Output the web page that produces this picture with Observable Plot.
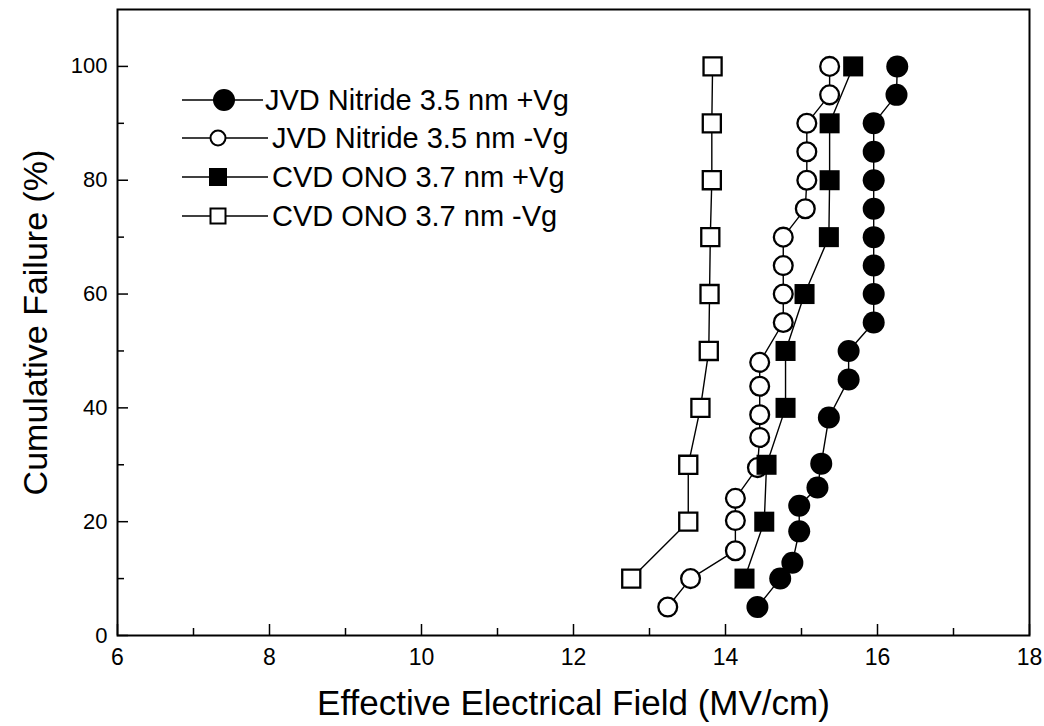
<!DOCTYPE html>
<html><head><meta charset="utf-8">
<script src="https://cdn.jsdelivr.net/npm/d3@7"></script>
<script src="https://cdn.jsdelivr.net/npm/@observablehq/plot@0.6"></script>
<style>
body{margin:0;background:#fff}
#wrap{position:relative;width:1044px;height:726px;background:#fff}
#legend{position:absolute;left:0;top:0;pointer-events:none}
</style>
</head><body><div id="wrap"></div>
<script>
// ---- data ----
const seriesNames = ["JVD Nitride 3.5 nm +Vg", "JVD Nitride 3.5 nm -Vg", "CVD ONO 3.7 nm +Vg", "CVD ONO 3.7 nm -Vg"];

const jvdPosX = [14.42, 14.72, 14.88, 14.97, 14.97, 15.21, 15.26, 15.36, 15.62, 15.62, 15.95, 15.95, 15.95, 15.95, 15.95, 15.95, 15.95, 15.95, 16.25, 16.26];
const jvdPosY = [5, 10, 12.8, 18.3, 22.8, 26, 30.2, 38.3, 45, 50, 55, 60, 65, 70, 75, 80, 85, 90, 95, 100];

const jvdNegX = [13.24, 13.54, 14.13, 14.13, 14.13, 14.42, 14.45, 14.45, 14.45, 14.45, 14.76, 14.76, 14.76, 14.76, 15.05, 15.07, 15.07, 15.07, 15.37, 15.37];
const jvdNegY = [5, 10, 14.9, 20.2, 24.1, 29.5, 34.8, 38.8, 43.8, 48, 55, 60, 65, 70, 75, 80, 85, 90, 95, 100];

const cvdPosX = [14.25, 14.51, 14.54, 14.79, 14.79, 15.04, 15.36, 15.37, 15.37, 15.68];
const cvdPosY = [10, 20, 30, 40, 50, 60, 70, 80, 90, 100];

const cvdNegX = [12.76, 13.51, 13.51, 13.67, 13.78, 13.79, 13.80, 13.82, 13.82, 13.83];
const cvdNegY = [10, 20, 30, 40, 50, 60, 70, 80, 90, 100];

const xTickLabels = [6, 8, 10, 12, 14, 16, 18];
const xMinorTicks = [7, 9, 11, 13, 15, 17];
const yTickLabels = [0, 20, 40, 60, 80, 100];
const yMinorTicks = [10, 30, 50, 70, 90];

const xTitle = "Effective Electrical Field (MV/cm)";
const yTitle = "Cumulative Failure (%)";

// ---- build ----
const zip = (xs, ys) => xs.map((x, i) => ({x, y: ys[i]}));
const sJP = zip(jvdPosX, jvdPosY), sJN = zip(jvdNegX, jvdNegY), sCP = zip(cvdPosX, cvdPosY), sCN = zip(cvdNegX, cvdNegY);

const W = 1044, H = 726, mL = 117, mR = 15, mT = 9, mB = 91;
const frameW = W - mL - mR, frameH = H - mT - mB;
const font = "'Liberation Sans', Arial, Helvetica, sans-serif";

const lineOpts = {x: "x", y: "y", stroke: "black", strokeWidth: 1.4};
const chart = Plot.plot({
  width: W, height: H,
  marginLeft: mL, marginRight: mR, marginTop: mT, marginBottom: mB,
  style: {fontFamily: font, background: "white", color: "black", overflow: "visible"},
  x: {domain: [6, 18], labelArrow: "none"},
  y: {domain: [0, 110], labelArrow: "none"},
  marks: [
    Plot.line(sJN, lineOpts),
    Plot.line(sCN, lineOpts),
    Plot.line(sCP, lineOpts),
    Plot.line(sJP, lineOpts),
    Plot.dot(sJN, {x: "x", y: "y", r: 9.4, fill: "white", stroke: "black", strokeWidth: 2.3}),
    Plot.dot(sCN, {x: "x", y: "y", symbol: "square", r: 10.2, fill: "white", stroke: "black", strokeWidth: 2.3}),
    Plot.dot(sCP, {x: "x", y: "y", symbol: "square", r: 11.3, fill: "black", stroke: "none"}),
    Plot.dot(sJP, {x: "x", y: "y", r: 11, fill: "black", stroke: "none"}),
    Plot.ruleX(xTickLabels, {x: d => d, stroke: "black", strokeWidth: 1.5, insetTop: frameH - 11}),
    Plot.ruleX(xMinorTicks, {x: d => d, stroke: "black", strokeWidth: 1.5, insetTop: frameH - 7}),
    Plot.ruleY(yTickLabels, {y: d => d, stroke: "black", strokeWidth: 1.5, insetRight: frameW - 11}),
    Plot.ruleY(yMinorTicks, {y: d => d, stroke: "black", strokeWidth: 1.5, insetRight: frameW - 7}),
    Plot.frame({stroke: "black", strokeWidth: 2}),
    Plot.axisX({ticks: xTickLabels, tickSize: 0, tickPadding: 13, fontSize: 23, label: null}),
    Plot.axisX({ticks: [], tickSize: 0, label: xTitle, labelArrow: "none", labelAnchor: "center", labelOffset: 79, fontSize: 35}),
    Plot.axisY({ticks: yTickLabels, tickSize: 0, tickPadding: 10, fontSize: 22, label: null}),
    Plot.axisY({ticks: [], tickSize: 0, label: yTitle, labelArrow: "none", labelAnchor: "center", labelOffset: 95, fontSize: 34})
  ]
});
const wrap = document.getElementById("wrap");
wrap.appendChild(chart);

// ---- legend overlay ----
const leg = d3.select(wrap).append("svg").attr("id", "legend").attr("width", W).attr("height", H)
  .style("font-family", font);
const rows = [
  {name: seriesNames[0], y: 100, x1: 182, x2: 263, mx: 224, tx: 265, kind: "fc"},
  {name: seriesNames[1], y: 138, x1: 182, x2: 268, mx: 218, tx: 272, kind: "oc"},
  {name: seriesNames[2], y: 177, x1: 182, x2: 268, mx: 218, tx: 272, kind: "fs"},
  {name: seriesNames[3], y: 216, x1: 182, x2: 268, mx: 218, tx: 272, kind: "os"}
];
rows.forEach(r => {
  const g = leg.append("g");
  g.append("line").attr("x1", r.x1).attr("x2", r.x2).attr("y1", r.y).attr("y2", r.y).attr("stroke", "black").attr("stroke-width", 1.4);
  if (r.kind === "fc") g.append("circle").attr("cx", r.mx).attr("cy", r.y).attr("r", 11).attr("fill", "black");
  if (r.kind === "oc") g.append("circle").attr("cx", r.mx).attr("cy", r.y).attr("r", 7.5).attr("fill", "white").attr("stroke", "black").attr("stroke-width", 2);
  if (r.kind === "fs") g.append("rect").attr("x", r.mx - 9).attr("y", r.y - 9).attr("width", 18).attr("height", 18).attr("fill", "black");
  if (r.kind === "os") g.append("rect").attr("x", r.mx - 7.5).attr("y", r.y - 7.5).attr("width", 15).attr("height", 15).attr("fill", "white").attr("stroke", "black").attr("stroke-width", 2);
  g.append("text").attr("x", r.tx).attr("y", r.y).attr("dy", "0.36em").attr("font-size", 29).attr("fill", "black").text(r.name);
});
</script>
</body></html>
